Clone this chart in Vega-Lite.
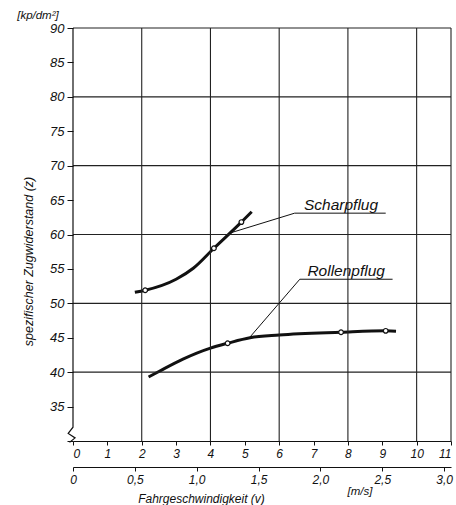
{
  "$schema": "https://vega.github.io/schema/vega-lite/v6.json",
  "width": 378,
  "height": 413,
  "autosize": {"type": "none"},
  "padding": {"left": 73, "top": 28, "right": 5, "bottom": 64},
  "background": "white",
  "config": {
    "view": {"stroke": null},
    "font": "Liberation Sans",
    "axis": {
      "labelFont": "Liberation Sans",
      "labelFontStyle": "italic",
      "labelColor": "#111",
      "labelOverlap": false,
      "labelBound": false,
      "labelFlush": false,
      "titleFont": "Liberation Sans",
      "titleFontStyle": "italic",
      "titleFontWeight": "normal",
      "titleColor": "#111",
      "domainColor": "#111",
      "tickColor": "#111",
      "grid": false
    }
  },
  "datasets": {
    "curves": [
      {"series": "Scharpflug", "v": 1.8, "z": 51.6},
      {"series": "Scharpflug", "v": 2.1, "z": 51.9},
      {"series": "Scharpflug", "v": 3.0, "z": 53.5},
      {"series": "Scharpflug", "v": 3.5, "z": 55.1},
      {"series": "Scharpflug", "v": 4.1, "z": 58.0},
      {"series": "Scharpflug", "v": 4.9, "z": 61.8},
      {"series": "Scharpflug", "v": 5.2, "z": 63.3},
      {"series": "Rollenpflug", "v": 2.2, "z": 39.3},
      {"series": "Rollenpflug", "v": 2.5, "z": 40.1},
      {"series": "Rollenpflug", "v": 3.2, "z": 41.9},
      {"series": "Rollenpflug", "v": 4.0, "z": 43.5},
      {"series": "Rollenpflug", "v": 4.5, "z": 44.2},
      {"series": "Rollenpflug", "v": 5.15, "z": 45.0},
      {"series": "Rollenpflug", "v": 6.0, "z": 45.4},
      {"series": "Rollenpflug", "v": 7.8, "z": 45.8},
      {"series": "Rollenpflug", "v": 9.1, "z": 46.0},
      {"series": "Rollenpflug", "v": 9.4, "z": 45.95}
    ],
    "measured": [
      {"series": "Scharpflug", "v": 2.1, "z": 51.9},
      {"series": "Scharpflug", "v": 4.1, "z": 58.0},
      {"series": "Scharpflug", "v": 4.9, "z": 61.8},
      {"series": "Rollenpflug", "v": 4.5, "z": 44.2},
      {"series": "Rollenpflug", "v": 7.8, "z": 45.8},
      {"series": "Rollenpflug", "v": 9.1, "z": 46.0}
    ],
    "leaders": [
      {"series": "Scharpflug", "i": 0, "v": 4.56, "z": 60.2},
      {"series": "Scharpflug", "i": 1, "v": 6.45, "z": 63.1},
      {"series": "Scharpflug", "i": 2, "v": 9.1, "z": 63.1},
      {"series": "Rollenpflug", "i": 0, "v": 5.15, "z": 45.1},
      {"series": "Rollenpflug", "i": 1, "v": 6.6, "z": 53.5},
      {"series": "Rollenpflug", "i": 2, "v": 9.3, "z": 53.5}
    ],
    "curveLabels": [
      {"v": 7.8, "z": 63.6, "text": "Scharpflug"},
      {"v": 7.95, "z": 54.0, "text": "Rollenpflug"}
    ],
    "units": [
      {"v": -1.02, "z": 91.8, "text": "[kp/dm²]"},
      {"v": 8.35, "z": 22.6, "text": "[m/s]"}
    ],
    "vgrid": [
      {"v": 2}, {"v": 4}, {"v": 6}, {"v": 8}, {"v": 10}, {"v": 11}
    ],
    "hgrid": [
      {"z": 40}, {"z": 50}, {"z": 60}, {"z": 70}, {"z": 80}, {"z": 90}
    ],
    "axisBreak": [
      {"i": 0, "v": 0, "z": 90},
      {"i": 1, "v": 0, "z": 32.0},
      {"i": 2, "v": -0.14, "z": 31.1},
      {"i": 3, "v": 0.06, "z": 30.45},
      {"i": 4, "v": -0.1, "z": 29.8}
    ],
    "ms": [
      {"ms": 0}, {"ms": 3.0556}
    ]
  },
  "layer": [
    {
      "layer": [
        {
          "data": {"name": "curves"},
          "mark": {"type": "line", "color": "#111", "strokeWidth": 3, "interpolate": "monotone"},
          "encoding": {
            "x": {
              "field": "v",
              "type": "quantitative",
              "scale": {"domain": [0, 11], "nice": false, "zero": false},
              "axis": {
                "tickCount": 11,
                "labelOverlap": false,
                "labelFlush": true,
                "title": null,
                "labelFontSize": 12,
                "labelPadding": 3,
                "tickSize": 4,
                "domain": true,
                "domainWidth": 1.2
              }
            },
            "y": {
              "field": "z",
              "type": "quantitative",
              "scale": {"domain": [30, 90], "nice": false, "zero": false},
              "axis": {
                "tickCount": 12,
                "labelOverlap": false,
                "labelExpr": "datum.value == 30 ? '' : datum.label",
                "domain": false,
                "tickSize": 6,
                "labelFontSize": 13,
                "labelPadding": 3,
                "title": "spezifischer  Zugwiderstand  (z)",
                "titleFontSize": 12.5,
                "titleAngle": -90,
                "titleAlign": "center",
                "titleBaseline": "middle",
                "titleX": -45,
                "titleY": 233
              }
            },
            "detail": {"field": "series"}
          }
        },
        {
          "data": {"name": "vgrid"},
          "mark": {"type": "rule", "color": "#222", "strokeWidth": 1.1},
          "encoding": {
            "x": {"field": "v", "type": "quantitative"},
            "y": {"datum": 30, "type": "quantitative"},
            "y2": {"datum": 90}
          }
        },
        {
          "data": {"name": "hgrid"},
          "mark": {"type": "rule", "color": "#222", "strokeWidth": 1.1},
          "encoding": {
            "y": {"field": "z", "type": "quantitative"},
            "x": {"datum": 0, "type": "quantitative"},
            "x2": {"datum": 11}
          }
        },
        {
          "data": {"name": "axisBreak"},
          "mark": {"type": "line", "color": "#111", "strokeWidth": 1.2},
          "encoding": {
            "x": {"field": "v", "type": "quantitative"},
            "y": {"field": "z", "type": "quantitative"},
            "order": {"field": "i"}
          }
        },
        {
          "data": {"name": "leaders"},
          "mark": {"type": "line", "color": "#111", "strokeWidth": 1},
          "encoding": {
            "x": {"field": "v", "type": "quantitative"},
            "y": {"field": "z", "type": "quantitative"},
            "detail": {"field": "series"},
            "order": {"field": "i"}
          }
        },
        {
          "data": {"name": "measured"},
          "mark": {"type": "point", "shape": "circle", "filled": true, "fill": "white", "stroke": "#111", "strokeWidth": 1.2, "size": 22, "opacity": 1},
          "encoding": {
            "x": {"field": "v", "type": "quantitative"},
            "y": {"field": "z", "type": "quantitative"}
          }
        },
        {
          "data": {"name": "curveLabels"},
          "mark": {"type": "text", "font": "Liberation Sans", "fontStyle": "italic", "fontSize": 15.5, "align": "center", "baseline": "alphabetic", "color": "#111"},
          "encoding": {
            "x": {"field": "v", "type": "quantitative"},
            "y": {"field": "z", "type": "quantitative"},
            "text": {"field": "text"}
          }
        },
        {
          "data": {"name": "units"},
          "mark": {"type": "text", "font": "Liberation Sans", "fontStyle": "italic", "fontSize": 11.5, "align": "center", "baseline": "middle", "color": "#111"},
          "encoding": {
            "x": {"field": "v", "type": "quantitative"},
            "y": {"field": "z", "type": "quantitative"},
            "text": {"field": "text"}
          }
        }
      ]
    },
    {
      "data": {"name": "ms"},
      "mark": {"type": "point", "opacity": 0},
      "encoding": {
        "x": {
          "field": "ms",
          "type": "quantitative",
          "scale": {"domain": [0, 3.0556], "nice": false, "zero": false},
          "axis": {
            "orient": "bottom",
            "offset": 26,
            "values": [0, 0.5, 1, 1.5, 2, 2.5, 3],
            "labelOverlap": false,
            "labelExpr": "datum.value == 0 ? '0' : replace(format(datum.value, '.1f'), '.', ',')",
            "labelFontSize": 12,
            "labelPadding": 3,
            "tickSize": 4,
            "domainWidth": 1.2,
            "title": "Fahrgeschwindigkeit  (v)",
            "titleFontSize": 12,
            "titleAlign": "center",
            "titleBaseline": "middle",
            "titleX": 128,
            "titleY": 31
          }
        }
      }
    }
  ],
  "resolve": {"scale": {"x": "independent"}}
}
